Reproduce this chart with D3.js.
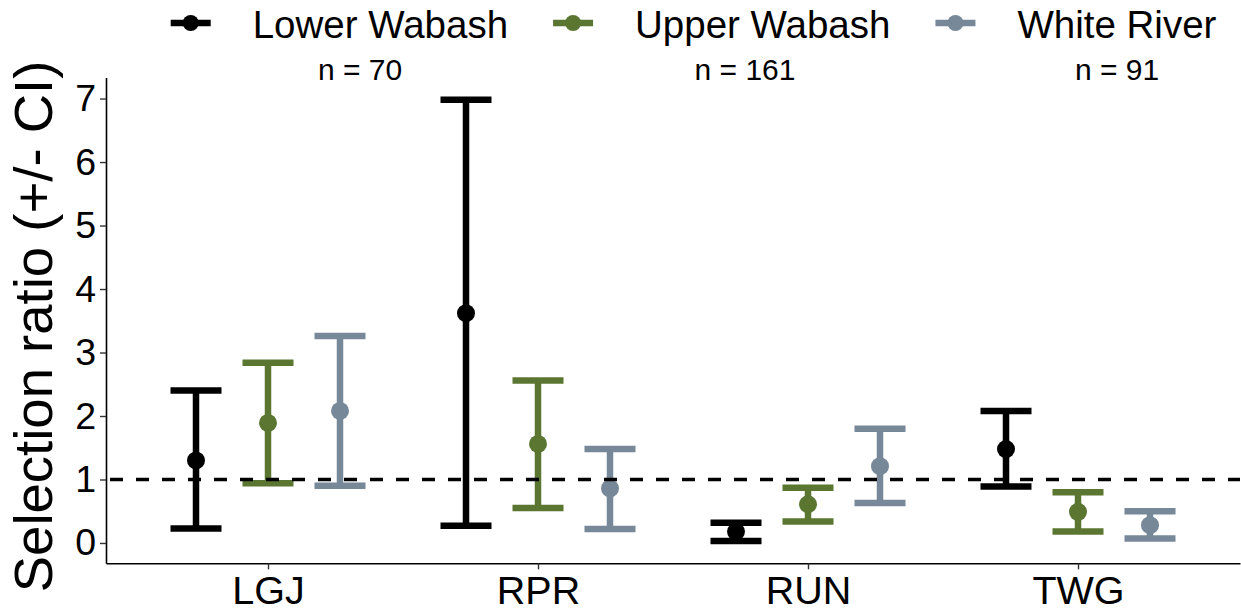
<!DOCTYPE html>
<html>
<head>
<meta charset="utf-8">
<script src="https://cdn.jsdelivr.net/npm/d3@7"></script>
<style>
  body { margin: 0; background: #fff; }
  text { font-family: "Liberation Sans", Arial, sans-serif; }
</style>
</head>
<body>
<script>
const w = 1241
const h = 615

// Data: selection ratio (mean, lower CI, upper CI) per habitat / river
const categories = ["LGJ", "RPR", "RUN", "TWG"]
const rivers = ["Lower Wabash", "Upper Wabash", "White River"]
const sampleSizes = [70, 161, 91]
const yTicks = [0, 1, 2, 3, 4, 5, 6, 7]
const refLine = 1

const lowerWabashMean = [1.30, 3.62, 0.18, 1.48]
const lowerWabashLow  = [0.23, 0.27, 0.03, 0.89]
const lowerWabashHigh = [2.40, 6.98, 0.32, 2.08]

const upperWabashMean = [1.89, 1.56, 0.61, 0.49]
const upperWabashLow  = [0.94, 0.55, 0.34, 0.18]
const upperWabashHigh = [2.84, 2.56, 0.87, 0.80]

const whiteRiverMean = [2.08, 0.86, 1.21, 0.28]
const whiteRiverLow  = [0.90, 0.22, 0.63, 0.07]
const whiteRiverHigh = [3.26, 1.48, 1.80, 0.50]

const colors = ["#000000", "#5a7631", "#778899"]

// long table built from the arrays above
const seriesMean = [lowerWabashMean, upperWabashMean, whiteRiverMean]
const seriesLow = [lowerWabashLow, upperWabashLow, whiteRiverLow]
const seriesHigh = [lowerWabashHigh, upperWabashHigh, whiteRiverHigh]
const rows = []
rivers.forEach((river, i) => {
  categories.forEach((cat, j) => {
    rows.push({river: river, cat: cat, mean: seriesMean[i][j], low: seriesLow[i][j], high: seriesHigh[i][j], color: colors[i]})
  })
})

const panel = {left: 106, right: 1240, top: 77.6, bottom: 563.3}
const capHalf = 25.5
const nLabelX = [360, 745, 1117]

const svg = d3.select("body")
              .append("svg")
              .attr("width", w)
              .attr("height", h)

const x = d3.scalePoint()
            .domain(categories)
            .range([panel.left, panel.right])
            .padding(0.6)

const dodge = d3.scalePoint()
                .domain(rivers)
                .range([-72, 72])

const y = d3.scaleLinear()
            .domain([-0.32, 7.33])
            .range([panel.bottom, panel.top])

// axes
const yAxis = svg.append("g")
    .attr("transform", `translate(${panel.left},0)`)
    .call(d3.axisLeft(y).tickValues(yTicks).tickSize(6).tickSizeOuter(0).tickPadding(4))
yAxis.select(".domain").attr("stroke", "#000").attr("stroke-width", 1.6)
yAxis.selectAll(".tick line").attr("stroke", "#333").attr("stroke-width", 1.4)
yAxis.selectAll(".tick text").attr("font-size", 37.5).attr("fill", "#000")
     .attr("font-family", "Liberation Sans, Arial, sans-serif")

const xAxis = svg.append("g")
    .attr("transform", `translate(0,${panel.bottom})`)
    .call(d3.axisBottom(x).tickSize(6).tickSizeOuter(0).tickPadding(7))
xAxis.select(".domain").attr("stroke", "#000").attr("stroke-width", 1.6)
xAxis.selectAll(".tick line").attr("stroke", "#333").attr("stroke-width", 1.4)
xAxis.selectAll(".tick text").attr("font-size", 39.5).attr("fill", "#000")
     .attr("font-family", "Liberation Sans, Arial, sans-serif")

// y title
svg.append("text")
    .attr("transform", `translate(52,${(panel.top + panel.bottom) / 2 + 6}) rotate(-90)`)
    .attr("text-anchor", "middle")
    .attr("font-size", 54.5)
    .text("Selection ratio (+/- CI)")

// error bars
const bars = svg.append("g").selectAll("g")
    .data(rows)
    .join("g")
    .attr("stroke", d => d.color)
    .attr("stroke-width", 6.5)

bars.append("line")
    .attr("x1", d => x(d.cat) + dodge(d.river))
    .attr("x2", d => x(d.cat) + dodge(d.river))
    .attr("y1", d => y(d.low))
    .attr("y2", d => y(d.high))

bars.append("line")
    .attr("x1", d => x(d.cat) + dodge(d.river) - capHalf)
    .attr("x2", d => x(d.cat) + dodge(d.river) + capHalf)
    .attr("y1", d => y(d.high))
    .attr("y2", d => y(d.high))

bars.append("line")
    .attr("x1", d => x(d.cat) + dodge(d.river) - capHalf)
    .attr("x2", d => x(d.cat) + dodge(d.river) + capHalf)
    .attr("y1", d => y(d.low))
    .attr("y2", d => y(d.low))

svg.append("g").selectAll("circle")
    .data(rows)
    .join("circle")
    .attr("cx", d => x(d.cat) + dodge(d.river))
    .attr("cy", d => y(d.mean))
    .attr("r", 9)
    .attr("fill", d => d.color)

// reference line at 1
svg.append("line")
    .attr("x1", panel.left)
    .attr("x2", panel.right)
    .attr("y1", y(refLine))
    .attr("y2", y(refLine))
    .attr("stroke", "#000")
    .attr("stroke-width", 3.5)
    .attr("stroke-dasharray", "13,13")
    .attr("stroke-dashoffset", -4)

// legend
const legend = svg.append("g")
let lx = 170.7
rivers.forEach((river, i) => {
  const item = legend.append("g")
  item.append("line")
      .attr("x1", lx).attr("x2", lx + 40)
      .attr("y1", 23).attr("y2", 23)
      .attr("stroke", colors[i])
      .attr("stroke-width", 6.5)
  item.append("circle")
      .attr("cx", lx + 20).attr("cy", 23)
      .attr("r", 8)
      .attr("fill", colors[i])
  const t = item.append("text")
      .attr("x", lx + 82)
      .attr("y", 38)
      .attr("font-size", 38.5)
      .text(river)
  lx = lx + 82 + t.node().getComputedTextLength() + 45
})

// sample sizes
svg.append("g").selectAll("text")
    .data(sampleSizes)
    .join("text")
    .attr("x", (d, i) => nLabelX[i])
    .attr("y", 80)
    .attr("text-anchor", "middle")
    .attr("font-size", 30)
    .text(d => `n = ${d}`)
</script>
</body>
</html>
